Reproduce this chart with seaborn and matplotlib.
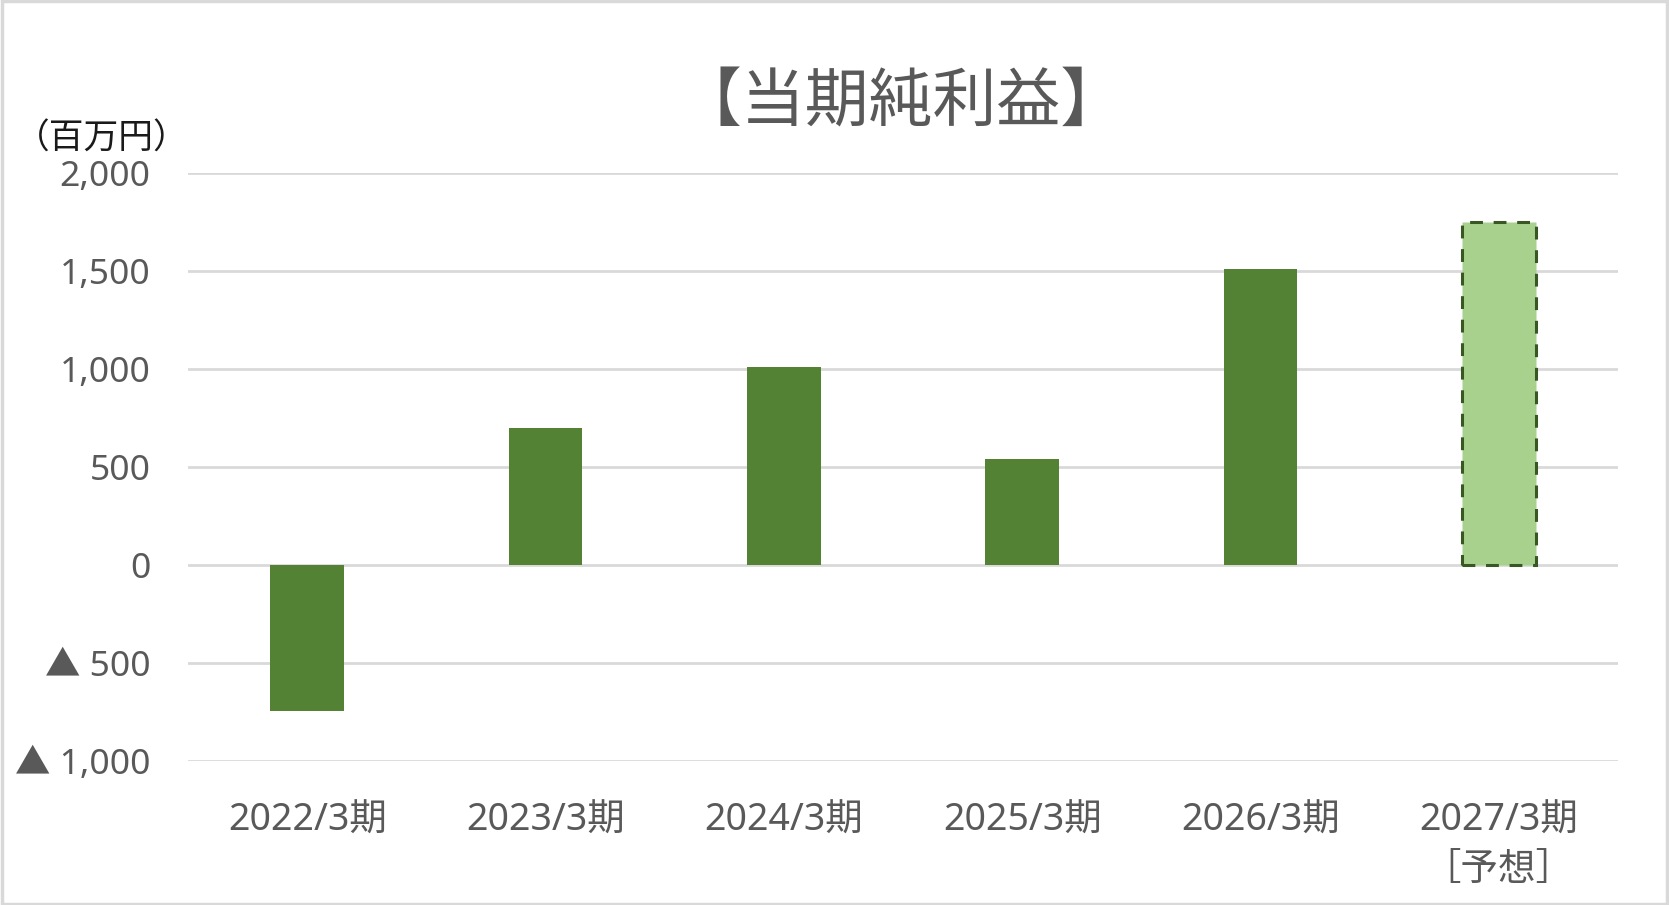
import numpy as np
import pandas as pd
import matplotlib
matplotlib.use("Agg")
import matplotlib.pyplot as plt
import seaborn as sns
from matplotlib.patches import Rectangle

# データ
periods = ["2022/3期", "2023/3期", "2024/3期", "2025/3期", "2026/3期", "2027/3期\n［予想］"]
net_income = [-745, 700, 1010, 540, 1510, 1750]
is_forecast = [False, False, False, False, False, True]
y_ticks = [-1000, -500, 0, 500, 1000, 1500, 2000]
y_tick_labels = ["▲ 1,000", "▲ 500", "0", "500", "1,000", "1,500", "2,000"]

sns.set_theme(style="white")
plt.rcParams['font.family'] = ['Noto Sans', 'Noto Sans CJK JP', 'DejaVu Sans']

text_gray = "#595959"
bar_green = "#548235"
light_green = "#A9D18E"
dash_green = "#385723"

df = pd.DataFrame({"period": periods, "value": net_income, "forecast": is_forecast})

fig = plt.figure(figsize=(16.69, 9.05), dpi=100)
ax = fig.add_axes([0.1127, 0.159, 0.8567, 0.6493])

colors = [light_green if f else bar_green for f in is_forecast]
sns.barplot(data=df, x="period", y="value", hue="period", palette=colors,
            legend=False, width=0.31, ax=ax, saturation=1)

# 予想バーは破線の枠
for patch, f in zip(ax.patches, is_forecast):
    if f:
        patch.set_edgecolor(dash_green)
        patch.set_linestyle((0, (4.2, 3.5)))
        patch.set_linewidth(2.2)
    else:
        patch.set_edgecolor("none")

ax.set_ylim(-1000, 2000)
ax.set_xlim(-0.5, len(periods) - 0.5)
ax.set_yticks(y_ticks)
ax.set_yticklabels(y_tick_labels)
ax.yaxis.grid(True, color="#D9D9D9", linewidth=2)
ax.set_axisbelow(True)
for s in ax.spines.values():
    s.set_visible(False)

ax.tick_params(axis="both", length=0, labelsize=25.5, colors=text_gray)
ax.tick_params(axis="y", pad=27)
ax.tick_params(axis="x", pad=29)
for lbl in ax.get_xticklabels():
    lbl.set_linespacing(1.4)
    lbl.set_fontsize(27)
ax.set_xlabel("")
ax.set_ylabel("")

fig.text(0.54, 0.886, "【当期純利益】", ha="center", va="center",
         fontsize=46, color=text_gray, family=['Noto Sans CJK JP', 'DejaVu Sans'])
fig.text(0.061, 0.846, "（百万円）", ha="center", va="center",
         fontsize=25, color="#1a1a1a", family=['Noto Sans CJK JP', 'DejaVu Sans'])

# 外枠
fig.patches.append(Rectangle((0.001, 0.001), 0.998, 0.998, transform=fig.transFigure,
                             fill=False, edgecolor="#D9D9D9", linewidth=2.5))

fig.savefig("out.png", dpi=100)
